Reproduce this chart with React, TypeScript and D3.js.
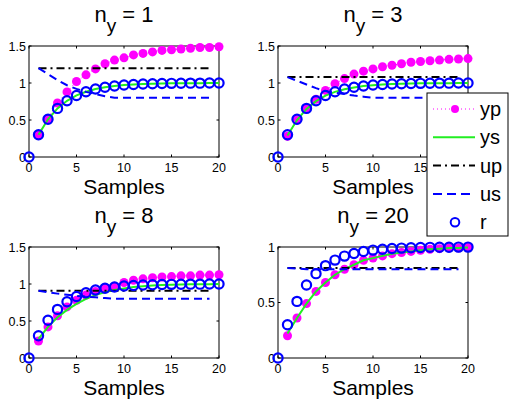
import React, { useRef, useEffect } from "react";
import { select, scaleLinear, line } from "d3";

// sample index, reference r is shared by every panel
const samples = [0, 1, 2, 3, 4, 5, 6, 7, 8, 9, 10, 11, 12, 13, 14, 15, 16, 17, 18, 19, 20];
const rRef = [0, 0.3, 0.51, 0.657, 0.76, 0.832, 0.882, 0.918, 0.942, 0.96, 0.972, 0.98, 0.986, 0.99, 0.993, 0.995, 0.997, 0.998, 0.998, 0.999, 0.999];

const ny = ["1", "3", "8", "20"];
const yTop = [1.5, 1.5, 1.5, 1];
const xTicks = [0, 5, 10, 15, 20];
const yTicksTall = [0, 0.5, 1, 1.5];
const yTicksShort = [0, 0.5, 1];

// n_y = 1
const yp1 = [0.3, 0.52, 0.73, 0.88, 1.02, 1.11, 1.19, 1.26, 1.31, 1.34, 1.38, 1.4, 1.42, 1.44, 1.45, 1.46, 1.47, 1.48, 1.48, 1.49];
const ys1 = [0.3, 0.51, 0.657, 0.76, 0.832, 0.882, 0.918, 0.942, 0.96, 0.972, 0.98, 0.986, 0.99, 0.993, 0.995, 0.997, 0.998, 0.998, 0.999, 0.999];
const up1 = [1.2, 1.2, 1.2, 1.2, 1.2, 1.2, 1.2, 1.2, 1.2, 1.2, 1.2, 1.2, 1.2, 1.2, 1.2, 1.2, 1.2, 1.2, 1.2];
const us1 = [1.2, 1.12, 1.04, 0.97, 0.92, 0.88, 0.85, 0.82, 0.8, 0.8, 0.8, 0.8, 0.8, 0.8, 0.8, 0.8, 0.8, 0.8, 0.8];

// n_y = 3
const yp3 = [0.28, 0.5, 0.65, 0.78, 0.9, 0.99, 1.06, 1.12, 1.16, 1.19, 1.22, 1.24, 1.26, 1.28, 1.29, 1.3, 1.31, 1.32, 1.325, 1.33];
const ys3 = [0.29, 0.5, 0.65, 0.755, 0.83, 0.88, 0.915, 0.94, 0.96, 0.97, 0.98, 0.986, 0.99, 0.993, 0.995, 0.997, 0.998, 0.998, 0.999, 0.999];
const up3 = [1.08, 1.08, 1.08, 1.08, 1.08, 1.08, 1.08, 1.08, 1.08, 1.08, 1.08, 1.08, 1.08, 1.08, 1.08, 1.08, 1.08, 1.08, 1.08];
const us3 = [1.08, 1.03, 0.98, 0.93, 0.89, 0.87, 0.85, 0.83, 0.815, 0.8, 0.8, 0.8, 0.8, 0.8, 0.8, 0.8, 0.8, 0.8, 0.8];

// n_y = 8
const yp8 = [0.23, 0.42, 0.57, 0.69, 0.78, 0.85, 0.9, 0.94, 0.97, 1.02, 1.05, 1.07, 1.085, 1.095, 1.1, 1.11, 1.11, 1.12, 1.12, 1.125];
const ys8 = [0.26, 0.42, 0.55, 0.65, 0.73, 0.8, 0.85, 0.89, 0.92, 0.94, 0.96, 0.97, 0.98, 0.985, 0.99, 0.993, 0.995, 0.997, 0.998, 1.0];
const up8 = [0.91, 0.91, 0.91, 0.91, 0.91, 0.91, 0.91, 0.91, 0.91, 0.91, 0.91, 0.91, 0.91, 0.91, 0.91, 0.91, 0.91, 0.91, 0.91];
const us8 = [0.91, 0.89, 0.87, 0.855, 0.84, 0.83, 0.82, 0.81, 0.8, 0.8, 0.8, 0.8, 0.8, 0.8, 0.8, 0.8, 0.8, 0.8, 0.8];

// n_y = 20
const yp20 = [0.2, 0.36, 0.49, 0.6, 0.68, 0.75, 0.8, 0.84, 0.88, 0.9, 0.92, 0.94, 0.95, 0.96, 0.97, 0.98, 0.985, 0.99, 0.99, 0.995];
const ys20 = [0.22, 0.36, 0.49, 0.6, 0.68, 0.75, 0.8, 0.84, 0.88, 0.9, 0.92, 0.94, 0.95, 0.96, 0.97, 0.98, 0.985, 0.99, 0.99, 0.995];
const up20 = [0.81, 0.81, 0.81, 0.81, 0.81, 0.81, 0.81, 0.81, 0.81, 0.81, 0.81, 0.81, 0.81, 0.81, 0.81, 0.81, 0.81, 0.81, 0.81];
const us20 = [0.81, 0.805, 0.8, 0.8, 0.8, 0.8, 0.8, 0.8, 0.8, 0.8, 0.8, 0.8, 0.8, 0.8, 0.8, 0.8, 0.8, 0.8, 0.8];

const ypAll = [yp1, yp3, yp8, yp20];
const ysAll = [ys1, ys3, ys8, ys20];
const upAll = [up1, up3, up8, up20];
const usAll = [us1, us3, us8, us20];

const legendNames = ["yp", "ys", "up", "us", "r"];

const MAGENTA = "#ff00ff";
const GREEN = "#22ee22";
const BLUE = "#0000ff";
const FONT = "'Liberation Sans', Arial, Helvetica, sans-serif";

const App: React.FC = () => {
  const svgRef = useRef<SVGSVGElement>(null);
  const width = 513;
  const height = 400;
  const panelLeft = [29, 278];
  const panelTop = [46, 247];
  const plotWidth = 190;
  const plotHeight = 111;

  useEffect(() => {
    const svg = select(svgRef.current);
    svg.selectAll("*").remove();

    ny.forEach((label, i) => {
      const x0 = panelLeft[i % 2];
      const y0 = panelTop[Math.floor(i / 2)];
      const x = scaleLinear().domain([0, 20]).range([x0, x0 + plotWidth]);
      const y = scaleLinear().domain([0, yTop[i]]).range([y0 + plotHeight, y0]);
      const g = svg.append("g");

      g.append("rect")
        .attr("x", x0).attr("y", y0)
        .attr("width", plotWidth).attr("height", plotHeight)
        .attr("fill", "white").attr("stroke", "black").attr("stroke-width", 1);

      // ticks point inwards on all four sides
      xTicks.forEach((t) => {
        g.append("line").attr("x1", x(t)).attr("x2", x(t))
          .attr("y1", y0 + plotHeight).attr("y2", y0 + plotHeight - 2.5)
          .attr("stroke", "black");
        g.append("line").attr("x1", x(t)).attr("x2", x(t))
          .attr("y1", y0).attr("y2", y0 + 2.5)
          .attr("stroke", "black");
        g.append("text").text(String(t))
          .attr("x", x(t)).attr("y", y0 + plotHeight + 15)
          .attr("text-anchor", "middle")
          .attr("font-family", FONT).attr("font-size", 12.5);
      });
      const yTicks = yTop[i] > 1 ? yTicksTall : yTicksShort;
      yTicks.forEach((t) => {
        g.append("line").attr("x1", x0).attr("x2", x0 + 2.5)
          .attr("y1", y(t)).attr("y2", y(t)).attr("stroke", "black");
        g.append("line").attr("x1", x0 + plotWidth).attr("x2", x0 + plotWidth - 2.5)
          .attr("y1", y(t)).attr("y2", y(t)).attr("stroke", "black");
        g.append("text").text(String(t))
          .attr("x", x0 - 3).attr("y", y(t) + 4.5)
          .attr("text-anchor", "end")
          .attr("font-family", FONT).attr("font-size", 12.5);
      });

      const steps = samples.slice(1);
      const uSteps = samples.slice(1, 20);
      const lineGen = line<number>().x((_, j) => x(steps[j])).y((d) => y(d));
      const uLine = line<number>().x((_, j) => x(uSteps[j])).y((d) => y(d));

      // yp: magenta dotted line with filled dots
      g.append("path").attr("d", lineGen(ypAll[i]))
        .attr("fill", "none").attr("stroke", MAGENTA)
        .attr("stroke-width", 1).attr("stroke-dasharray", "1,3");
      g.selectAll(".yp").data(ypAll[i]).join("circle")
        .attr("cx", (_, j) => x(steps[j])).attr("cy", (d) => y(d))
        .attr("r", 4.5).attr("fill", MAGENTA);

      g.append("path").attr("d", lineGen(ysAll[i]))
        .attr("fill", "none").attr("stroke", GREEN).attr("stroke-width", 2);

      g.append("path").attr("d", uLine(upAll[i]))
        .attr("fill", "none").attr("stroke", "black")
        .attr("stroke-width", 2).attr("stroke-dasharray", "8,4,2,4");

      g.append("path").attr("d", uLine(usAll[i]))
        .attr("fill", "none").attr("stroke", BLUE)
        .attr("stroke-width", 2).attr("stroke-dasharray", "8,5");

      g.selectAll(".r").data(rRef).join("circle")
        .attr("cx", (_, j) => x(samples[j])).attr("cy", (d) => y(d))
        .attr("r", 4.6).attr("fill", "none")
        .attr("stroke", BLUE).attr("stroke-width", 2.2);

      const title = g.append("text")
        .attr("x", x0 + plotWidth / 2).attr("y", y0 - 24)
        .attr("text-anchor", "middle")
        .attr("font-family", FONT).attr("font-size", 22);
      title.append("tspan").text("n");
      title.append("tspan").text("y").attr("dy", 10).attr("font-size", 19);
      title.append("tspan").text(" = " + label).attr("dy", -10);

      g.append("text").text("Samples")
        .attr("x", x0 + plotWidth / 2).attr("y", y0 + plotHeight + 37)
        .attr("text-anchor", "middle")
        .attr("font-family", FONT).attr("font-size", 21);
    });

    // legend over the upper right panel
    const lg = svg.append("g");
    lg.append("rect").attr("x", 427).attr("y", 93)
      .attr("width", 81).attr("height", 143)
      .attr("fill", "white").attr("stroke", "black");
    const rowY = (j: number) => 109 + j * 28.3;
    legendNames.forEach((name, j) => {
      const cy = rowY(j);
      if (name === "yp") {
        lg.append("line").attr("x1", 433).attr("x2", 475).attr("y1", cy).attr("y2", cy)
          .attr("stroke", MAGENTA).attr("stroke-width", 1).attr("stroke-dasharray", "1,3");
        lg.append("circle").attr("cx", 455).attr("cy", cy).attr("r", 4).attr("fill", MAGENTA);
      } else if (name === "ys") {
        lg.append("line").attr("x1", 433).attr("x2", 475).attr("y1", cy).attr("y2", cy)
          .attr("stroke", GREEN).attr("stroke-width", 2);
      } else if (name === "up") {
        lg.append("line").attr("x1", 433).attr("x2", 475).attr("y1", cy).attr("y2", cy)
          .attr("stroke", "black").attr("stroke-width", 2).attr("stroke-dasharray", "8,4,2,4");
      } else if (name === "us") {
        lg.append("line").attr("x1", 433).attr("x2", 475).attr("y1", cy).attr("y2", cy)
          .attr("stroke", BLUE).attr("stroke-width", 2).attr("stroke-dasharray", "9,5");
      } else {
        lg.append("circle").attr("cx", 455).attr("cy", cy).attr("r", 4.3)
          .attr("fill", "none").attr("stroke", BLUE).attr("stroke-width", 2);
      }
      lg.append("text").text(name)
        .attr("x", 480).attr("y", cy + 7)
        .attr("font-family", FONT).attr("font-size", 20);
    });
  }, []);

  return (
    <svg
      ref={svgRef}
      width={width}
      height={height}
      style={{ position: "absolute", left: 0, top: 0, background: "white" }}
    ></svg>
  );
};

export default App;
